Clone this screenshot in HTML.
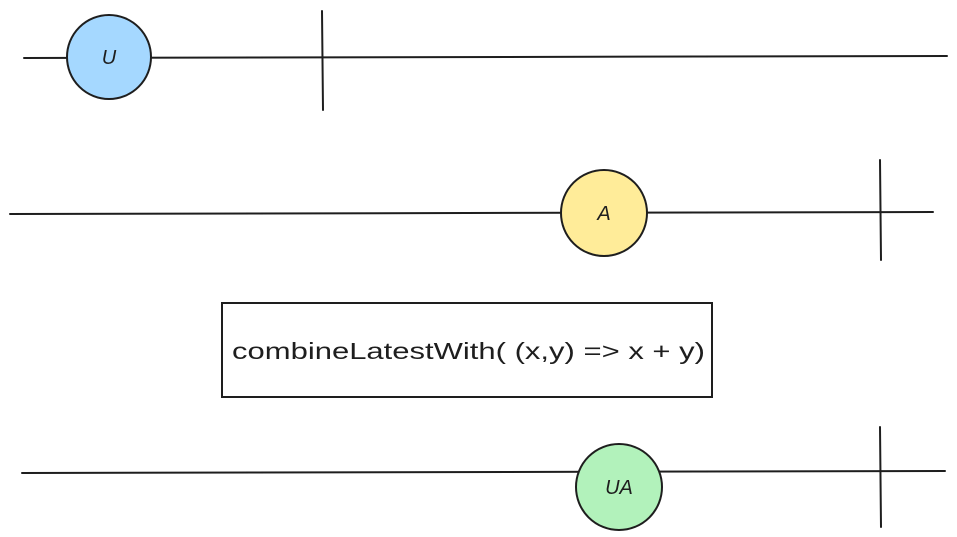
<!DOCTYPE html>
<html><head><meta charset="utf-8"><style>
html,body{margin:0;padding:0;background:#fff;width:957px;height:537px;overflow:hidden}
text{font-family:"Liberation Sans",sans-serif;fill:#1e1e1e}
</style></head><body>
<svg width="957" height="537" viewBox="0 0 957 537" xmlns="http://www.w3.org/2000/svg">
<g stroke="#1e1e1e" stroke-width="2" fill="none" stroke-linecap="round">
<path d="M24 58 L947 56"/>
<path d="M322 11 L323 110"/>
<path d="M10 214 L933 212"/>
<path d="M880 160 L881 260"/>
<path d="M22 473 L945 471"/>
<path d="M880 427 L881 527"/>
<rect x="222" y="303" width="490" height="94"/>
</g>
<g stroke="#1e1e1e" stroke-width="2">
<circle cx="109" cy="57" r="42" fill="#a5d8ff"/>
<circle cx="604" cy="213" r="43" fill="#ffec99"/>
<circle cx="619" cy="487" r="43" fill="#b2f2bb"/>
</g>
<text x="109" y="64" font-size="20" text-anchor="middle" font-style="italic">U</text>
<text x="604" y="220" font-size="20" text-anchor="middle" font-style="italic">A</text>
<text x="619" y="494" font-size="20" text-anchor="middle" font-style="italic">UA</text>
<text x="232" y="359" font-size="23" textLength="473" lengthAdjust="spacingAndGlyphs">combineLatestWith( (x,y) =&gt; x + y)</text>
</svg>
</body></html>
